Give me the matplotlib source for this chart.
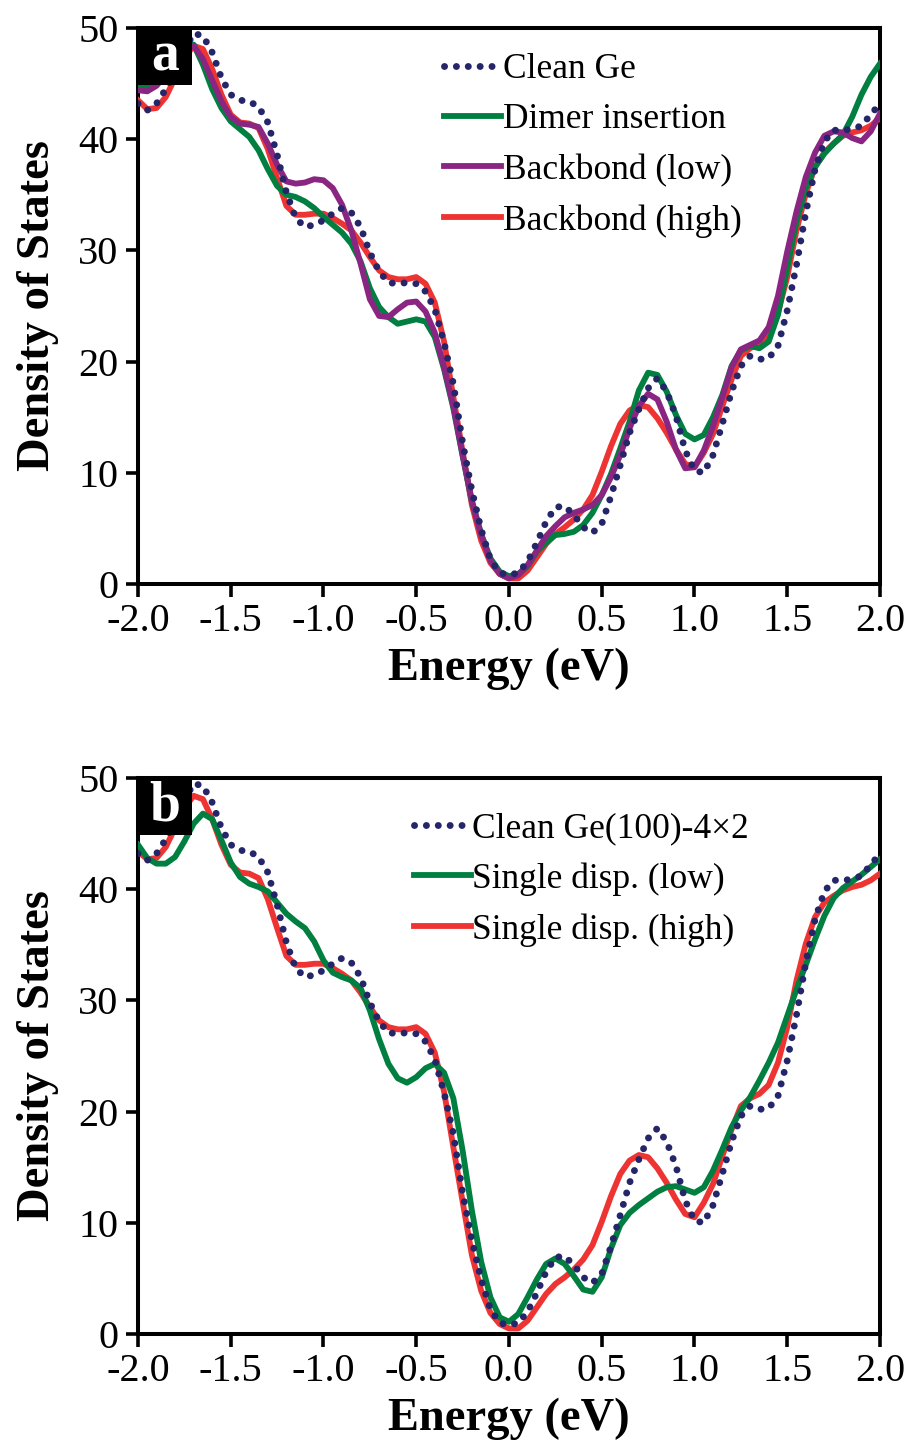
import numpy as np
import matplotlib
matplotlib.use("Agg")
import matplotlib.pyplot as plt
from matplotlib.patches import Rectangle
from matplotlib.lines import Line2D

plt.rcParams["font.family"] = ["Liberation Serif", "DejaVu Serif"]
plt.rcParams["axes.unicode_minus"] = False

# energy grid (eV), 0.05 step
energy = np.round(np.arange(-2.0, 2.0001, 0.05), 2)

# panel a
clean_ge = [43.2, 42.6, 43.2, 44.5, 46.0, 48.0, 49.5, 49.3, 47.8, 45.5,
            44.0, 43.5, 43.4, 42.9, 41.5, 38.6, 35.2, 32.9, 32.1, 32.3,
            32.7, 33.3, 33.8, 33.4, 32.1, 29.8, 28.1, 27.1, 27.0, 27.1,
            27.0, 26.3, 24.7, 21.7, 18.0, 12.7, 8.4, 4.9, 2.2, 1.0,
            0.8, 1.0, 2.0, 3.7, 5.6, 6.9, 7.0, 6.2, 5.1, 4.6,
            5.4, 7.9, 10.7, 13.6, 15.7, 17.6, 18.5, 17.3, 15.1, 12.0,
            10.2, 10.0, 11.6, 14.4, 17.3, 19.6, 20.5, 20.2, 20.3, 21.4,
            24.6, 28.7, 33.4, 37.3, 39.8, 40.8, 40.8, 40.9, 41.2, 42.2,
            43.2]
dimer = [44.7, 44.6, 45.0, 46.0, 47.3, 48.3, 48.5, 46.7, 44.5, 42.8,
         41.6, 40.9, 40.2, 39.0, 37.3, 35.8, 35.0, 34.8, 34.4, 33.8,
         33.0, 32.3, 31.6, 30.6, 29.0, 26.6, 24.9, 24.0, 23.4, 23.6,
         23.8, 23.6, 22.2, 19.3, 15.8, 11.5, 7.4, 4.5, 2.3, 1.1,
         0.7, 0.9, 1.6, 2.9, 3.7, 4.4, 4.5, 4.7, 5.3, 6.4,
         8.0, 9.9, 12.2, 14.6, 17.4, 19.0, 18.8, 17.3, 15.2, 13.5,
         13.0, 13.4, 15.0, 17.0, 19.6, 21.0, 21.4, 21.2, 21.8, 24.2,
         28.4, 32.6, 35.6, 37.5, 38.7, 39.6, 40.4, 42.0, 44.0, 45.6,
         46.8]
backbond_low = [44.4, 44.3, 44.8, 45.8, 47.0, 48.0, 48.4, 47.2, 45.3, 43.4,
                42.0, 41.4, 41.3, 41.1, 39.6, 37.7, 36.2, 36.0, 36.1, 36.4,
                36.3, 35.6, 34.1, 31.8, 28.8, 25.6, 24.1, 24.0, 24.7, 25.3,
                25.4, 24.5, 22.6, 19.5, 16.0, 11.6, 7.5, 4.4, 2.1, 0.9,
                0.5, 0.8, 1.7, 3.0, 4.3, 5.2, 6.0, 6.4, 6.7, 7.1,
                8.0, 9.6, 11.6, 14.0, 16.0, 17.1, 16.6, 14.6, 12.1, 10.4,
                10.5, 12.0, 14.2, 16.8, 19.5, 21.1, 21.5, 21.9, 23.1, 25.9,
                29.9, 33.5, 36.6, 38.8, 40.3, 40.7, 40.6, 40.1, 39.8, 40.7,
                42.3]
backbond_high = [43.5, 42.7, 42.8, 43.8, 45.5, 47.3, 48.4, 48.1, 46.3, 44.0,
                 42.2, 41.5, 41.4, 41.0, 39.1, 36.5, 34.0, 33.2, 33.2, 33.3,
                 33.3, 32.9, 32.4, 31.8, 30.7, 29.4, 28.2, 27.6, 27.4, 27.4,
                 27.6, 27.0, 25.3, 21.8, 16.8, 11.9, 7.1, 3.9, 1.9, 0.9,
                 0.5, 0.5, 1.2, 2.4, 3.6, 4.5, 5.1, 5.8, 6.7, 8.0,
                 10.1, 12.4, 14.4, 15.6, 16.1, 15.9, 14.9, 13.6, 12.1, 10.8,
                 10.5, 11.8, 13.5, 16.0, 18.4, 20.5, 21.2, 21.6, 22.4, 24.4,
                 27.6, 31.8, 35.1, 37.5, 38.8, 39.6, 40.3, 40.6, 40.8, 41.2,
                 41.9]

# panel b
clean_ge_4x2 = clean_ge
single_low = [44.0, 42.8, 42.3, 42.3, 42.9, 44.3, 45.9, 46.8, 46.3, 44.4,
              42.4, 41.1, 40.5, 40.2, 39.8, 38.8, 37.8, 37.1, 36.5, 35.3,
              33.6, 32.5, 32.1, 31.8, 31.1, 29.1, 26.5, 24.3, 23.0, 22.6,
              23.1, 23.9, 24.3, 23.5, 21.2, 16.5, 11.1, 6.5, 3.3, 1.5,
              1.1, 1.8, 3.3, 4.9, 6.3, 6.8, 6.3, 5.2, 4.0, 3.8,
              5.1, 7.7, 9.8, 10.9, 11.6, 12.2, 12.8, 13.2, 13.3, 13.0,
              12.7, 13.2, 14.7, 16.6, 18.6, 20.1, 21.3, 22.8, 24.4, 26.2,
              28.6, 31.0, 33.2, 35.5, 37.6, 39.2, 40.1, 40.7, 41.3, 42.0,
              42.7]
single_high = [43.4, 42.7, 42.8, 43.8, 45.5, 47.3, 48.4, 48.1, 46.3, 44.0,
               42.2, 41.5, 41.4, 41.0, 39.1, 36.5, 34.0, 33.2, 33.2, 33.3,
               33.3, 32.9, 32.4, 31.8, 30.7, 29.4, 28.2, 27.6, 27.4, 27.4,
               27.6, 27.0, 25.3, 21.8, 16.8, 11.9, 7.1, 3.9, 1.9, 0.9,
               0.5, 0.5, 1.2, 2.4, 3.6, 4.5, 5.1, 5.8, 6.7, 8.0,
               10.1, 12.4, 14.4, 15.6, 16.1, 15.9, 14.9, 13.6, 12.1, 10.8,
               10.5, 11.8, 13.5, 16.0, 18.4, 20.5, 21.2, 21.6, 22.4, 24.4,
               27.6, 31.8, 35.1, 37.5, 38.8, 39.4, 39.9, 40.2, 40.4, 40.8,
               41.4]

xticks = [-2.0, -1.5, -1.0, -0.5, 0.0, 0.5, 1.0, 1.5, 2.0]
yticks = [0, 10, 20, 30, 40, 50]

NAVY = "#25256a"
GREEN = "#007f40"
PURPLE = "#8a2582"
RED = "#ee3432"
LW = 4.2
DOT = dict(color=NAVY, lw=5.0, linestyle=(0, (0.01, 1.7)),
           dash_capstyle="round")


def style_axes(ax, letter):
    ax.set_xlim(-2.0, 2.0)
    ax.set_ylim(0, 50)
    ax.set_xticks(xticks)
    ax.set_xticklabels(["%.1f" % t for t in xticks])
    ax.set_yticks(yticks)
    for s in ax.spines.values():
        s.set_linewidth(2.9)
    ax.tick_params(direction="out", length=9, width=2.6, labelsize=29,
                   pad=5)
    ax.set_xlabel("Energy (eV)", fontsize=33.5, fontweight="bold",
                  labelpad=5)
    ax.set_ylabel("Density of States", fontsize=33.5, fontweight="bold",
                  labelpad=14)
    ax.add_patch(Rectangle((0, 1), 0.0728, -0.1025, transform=ax.transAxes,
                           facecolor="black", edgecolor="none", zorder=10,
                           clip_on=False))
    ax.text(0.0364, 1 - 0.0512, letter, transform=ax.transAxes,
            color="white", fontsize=40, fontweight="bold", ha="center",
            va="center", zorder=11)


fig = plt.figure(figsize=(9.09, 14.48), dpi=100)

# ---- panel a ----
ax_a = fig.add_axes([0.1518, 0.5967, 0.8163, 0.384])
ax_a.plot(energy, backbond_high, color=RED, lw=LW, zorder=3)
ax_a.plot(energy, dimer, color=GREEN, lw=LW, zorder=4)
ax_a.plot(energy, backbond_low, color=PURPLE, lw=LW, zorder=5)
ax_a.plot(energy, clean_ge, zorder=6, **DOT)
style_axes(ax_a, "a")
handles_a = [Line2D([], [], **DOT), Line2D([], [], color=GREEN, lw=LW),
             Line2D([], [], color=PURPLE, lw=LW),
             Line2D([], [], color=RED, lw=LW)]
ax_a.legend(handles_a, ["Clean Ge", "Dimer insertion", "Backbond (low)",
                        "Backbond (high)"],
            loc="upper left", bbox_to_anchor=(0.413, 0.955), frameon=False,
            fontsize=25.5, handlelength=1.6, handletextpad=0.05,
            labelspacing=0.49, borderpad=0, borderaxespad=0)

# ---- panel b ----
ax_b = fig.add_axes([0.1518, 0.0787, 0.8163, 0.384])
ax_b.plot(energy, single_high, color=RED, lw=LW, zorder=3)
ax_b.plot(energy, single_low, color=GREEN, lw=LW, zorder=4)
ax_b.plot(energy, clean_ge_4x2, zorder=6, **DOT)
style_axes(ax_b, "b")
handles_b = [Line2D([], [], **DOT), Line2D([], [], color=GREEN, lw=LW),
             Line2D([], [], color=RED, lw=LW)]
ax_b.legend(handles_b, ["Clean Ge(100)-4\u00d72", "Single disp. (low)",
                        "Single disp. (high)"],
            loc="upper left", bbox_to_anchor=(0.372, 0.939), frameon=False,
            fontsize=25.5, handlelength=1.6, handletextpad=0.05,
            labelspacing=0.49, borderpad=0, borderaxespad=0)

fig.savefig("out.png", dpi=100, facecolor="white")
